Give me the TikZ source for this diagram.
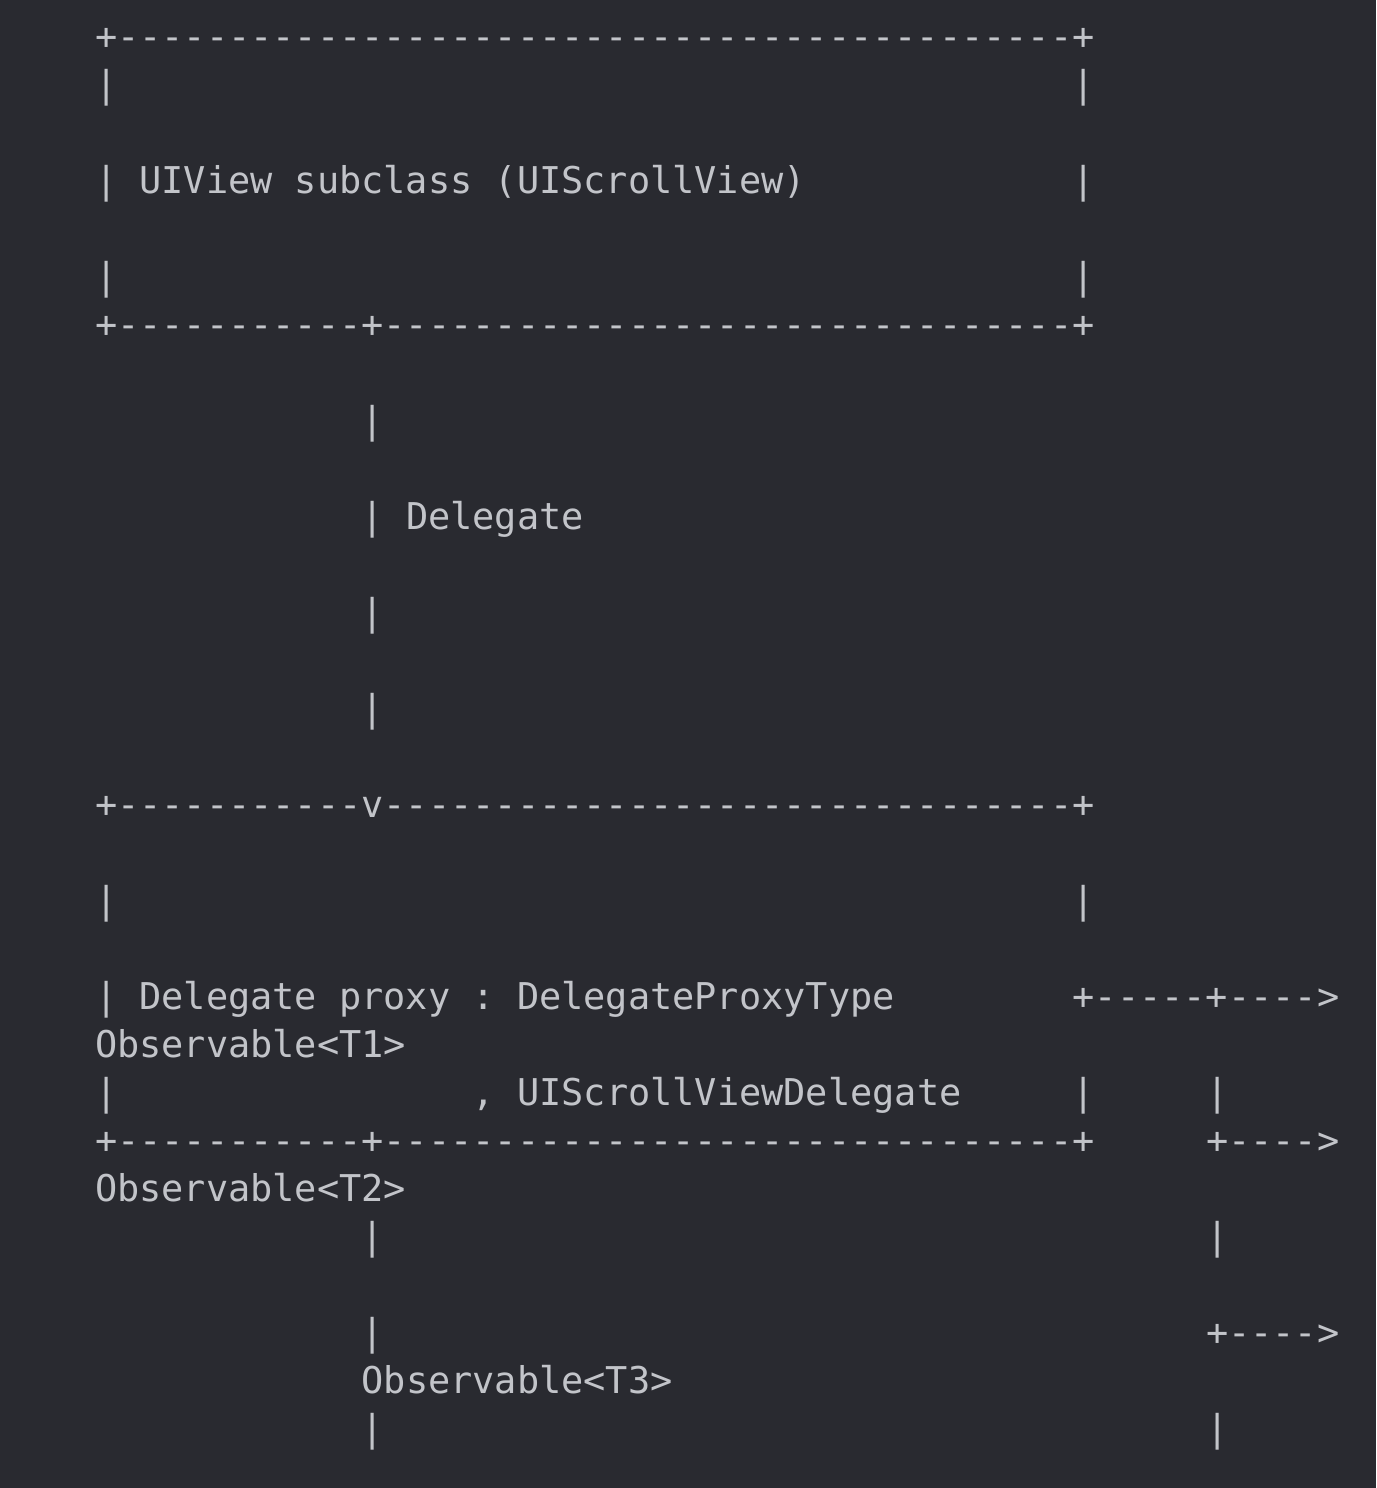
\documentclass[tikz,border=0pt]{standalone}
\usepackage{fontspec}
\setmonofont{DejaVu Sans Mono}
\usepackage{tikz}
\usetikzlibrary{positioning}

\definecolor{codebg}{HTML}{292A30}
\definecolor{codefg}{HTML}{C2C4C9}

% one character cell of the listing
\newcommand{\cellw}{22.22}
\newcommand{\rowh}{48}

\begin{document}
\frenchspacing
\begin{tikzpicture}[
    x=0.5pt, y=-0.5pt,
    % Style definitions
    asciirow/.style={anchor=base west, inner sep=0pt, outer sep=0pt, text=codefg,
        font=\ttfamily\fontsize{18.45pt}{22pt}\selectfont},
]

% page and background
\fill[codebg] (0,0) rectangle (1376,1488);
\useasboundingbox (0,0) rectangle (1376,1488);

% place text at (column, row)
\def\at#1#2{({95+\cellw*#1},{49+\rowh*#2})}

% Top box: UIView subclass
\node[asciirow] (topborder) at \at{0}{0} {+-------------------------------------------+};
\foreach \r/\n in {1/a, 5/b} {
    \node[asciirow] (topleft\n) at \at{0}{\r} {|};
    \node[asciirow] (topright\n) at \at{44}{\r} {|};
}
\node[asciirow] (viewtitle) at \at{0}{3} {| UIView subclass (UIScrollView)};
\node[asciirow] (viewright) at \at{44}{3} {|};
\node[asciirow] (viewbottom) at \at{0}{6} {+-----------+-------------------------------+};

% Delegate link
\foreach \r/\n in {8/a, 12/b, 14/c} {
    \node[asciirow] (link\n) at \at{12}{\r} {|};
}
\node[asciirow] (delegate) at \at{12}{10} {| Delegate};

% Bottom box: Delegate proxy
\node[asciirow] (proxytop) at \at{0}{16} {+-----------v-------------------------------+};
\node[asciirow] (proxyleft) at \at{0}{18} {|};
\node[asciirow] (proxyright) at \at{44}{18} {|};
\node[asciirow] (proxytitle) at \at{0}{20} {| Delegate proxy : DelegateProxyType};
\node[asciirow] (outone) at \at{44}{20} {+-----+---->};
\node[asciirow] (obsone) at \at{0}{21} {Observable<T1>};
\node[asciirow] (proxyleftb) at \at{0}{22} {|};
\node[asciirow] (proxysub) at \at{17}{22} {, UIScrollViewDelegate};
\node[asciirow] (proxyrightb) at \at{44}{22} {|};
\node[asciirow] (busa) at \at{50}{22} {|};
\node[asciirow] (proxybottom) at \at{0}{23} {+-----------+-------------------------------+};
\node[asciirow] (outtwo) at \at{50}{23} {+---->};
\node[asciirow] (obstwo) at \at{0}{24} {Observable<T2>};

% Lower outputs
\node[asciirow] (stema) at \at{12}{25} {|};
\node[asciirow] (busb) at \at{50}{25} {|};
\node[asciirow] (stemb) at \at{12}{27} {|};
\node[asciirow] (outthree) at \at{50}{27} {+---->};
\node[asciirow] (obsthree) at \at{12}{28} {Observable<T3>};
\node[asciirow] (stemc) at \at{12}{29} {|};
\node[asciirow] (busc) at \at{50}{29} {|};

\end{tikzpicture}
\end{document}
